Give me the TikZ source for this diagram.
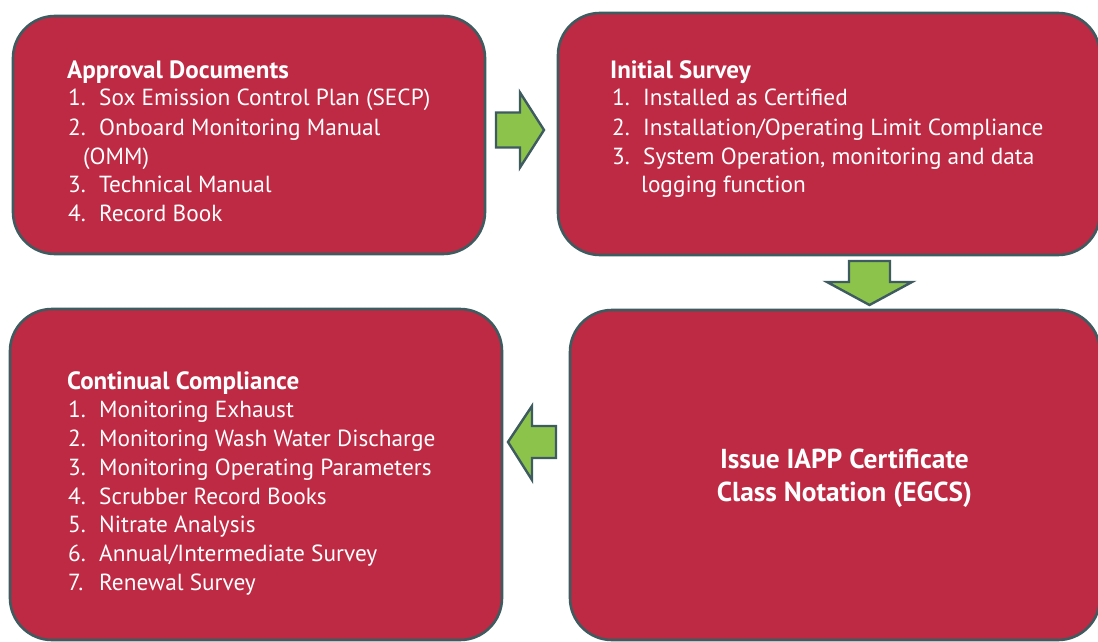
\documentclass[tikz,border=0pt]{standalone}
\usepackage{fontspec}
\setmainfont{PT Sans}
\begin{document}
\begin{tikzpicture}[x=1pt,y=-1pt,
  box/.style={draw=edge, line width=2.6pt, fill=crimson, rounded corners=42pt, inner sep=0pt},
  blockarrow/.style={draw=edge, line width=2.4pt, fill=leaf, line join=miter},
  head/.style={anchor=base west, inner sep=0pt, text=white, font=\fontsize{25}{29}\selectfont\bfseries},
  entry/.style={anchor=base west, inner sep=0pt, text=white, font=\fontsize{23.3}{28}\selectfont},
  bigline/.style={anchor=base, inner sep=0pt, text=white, font=\fontsize{27.4}{32}\selectfont\bfseries}]
\definecolor{crimson}{HTML}{BE2A43}
\definecolor{edge}{HTML}{3E5B5F}
\definecolor{leaf}{HTML}{8CC34B}
\useasboundingbox (0,0) rectangle (1098,642);
\clip (0,0) rectangle (1098,642);

% the four stage boxes
\node[box, minimum width=472pt, minimum height=238pt] (approval) at (249,135) {};
\node[box, minimum width=542pt, minimum height=242pt] (initial) at (829,134) {};
\node[box, minimum width=492pt, minimum height=331pt] (continual) at (256,474.5) {};
\node[box, minimum width=530pt, minimum height=330pt] (issue) at (835,475) {};

% block arrows between the stages
\coordinate (a1) at (496,128);
\draw[blockarrow] (a1) ++(0,-15.5) -- ++(24,0) -- ++(0,-20) -- ++(24,37.5) -- ++(-24,37.5) -- ++(0,-20) -- ++(-24,0) -- cycle;
\coordinate (a2) at (869.5,261);
\draw[blockarrow] (a2) ++(-20.5,0) -- ++(41,0) -- ++(0,21) -- ++(22,0) -- ++(-42.5,23) -- ++(-42.5,-23) -- ++(22,0) -- cycle;
\coordinate (a3) at (556,442);
\draw[blockarrow] (a3) ++(0,-16) -- ++(-24,0) -- ++(0,-20) -- ++(-24,36) -- ++(24,38) -- ++(0,-22) -- ++(24,0) -- cycle;

% approval documents
\node[head] (h1) at (67,78) {Approval Documents};
\node[entry] (n11) at (68,106) {1.};
\node[entry] (t11) at (99,106) {Sox Emission Control Plan (SECP)};
\node[entry] (n12) at (68,135) {2.};
\node[entry] (t12) at (99,135) {Onboard Monitoring Manual};
\node[entry] (t12b) at (83,164) {(OMM)};
\node[entry] (n13) at (68,192) {3.};
\node[entry] (t13) at (99,192) {Technical Manual};
\node[entry] (n14) at (68,221) {4.};
\node[entry] (t14) at (99,221) {Record Book};

% initial survey
\node[head] (h2) at (610,78) {Initial Survey};
\node[entry] (n21) at (612,106) {1.};
\node[entry] (t21) at (643,106) {Installed as Certified};
\node[entry] (n22) at (612,135) {2.};
\node[entry] (t22) at (643,135) {Installation/Operating Limit Compliance};
\node[entry] (n23) at (612,164) {3.};
\node[entry] (t23) at (643,164) {System Operation, monitoring and data};
\node[entry] (t23b) at (641,192) {logging function};

% continual compliance
\node[head] (h3) at (67,389) {Continual Compliance};
\node[entry] (n31) at (68,417) {1.};
\node[entry] (t31) at (99,417) {Monitoring Exhaust};
\node[entry] (n32) at (68,446) {2.};
\node[entry] (t32) at (99,446) {Monitoring Wash Water Discharge};
\node[entry] (n33) at (68,475) {3.};
\node[entry] (t33) at (99,475) {Monitoring Operating Parameters};
\node[entry] (n34) at (68,504) {4.};
\node[entry] (t34) at (99,504) {Scrubber Record Books};
\node[entry] (n35) at (68,532) {5.};
\node[entry] (t35) at (99,532) {Nitrate Analysis};
\node[entry] (n36) at (68,561) {6.};
\node[entry] (t36) at (99,561) {Annual/Intermediate Survey};
\node[entry] (n37) at (68,590) {7.};
\node[entry] (t37) at (99,590) {Renewal Survey};

% certificate issue
\node[bigline] (c1) at (844.5,468) {Issue IAPP Certificate};
\node[bigline] (c2) at (844.5,501) {Class Notation (EGCS)};
\end{tikzpicture}
\end{document}
